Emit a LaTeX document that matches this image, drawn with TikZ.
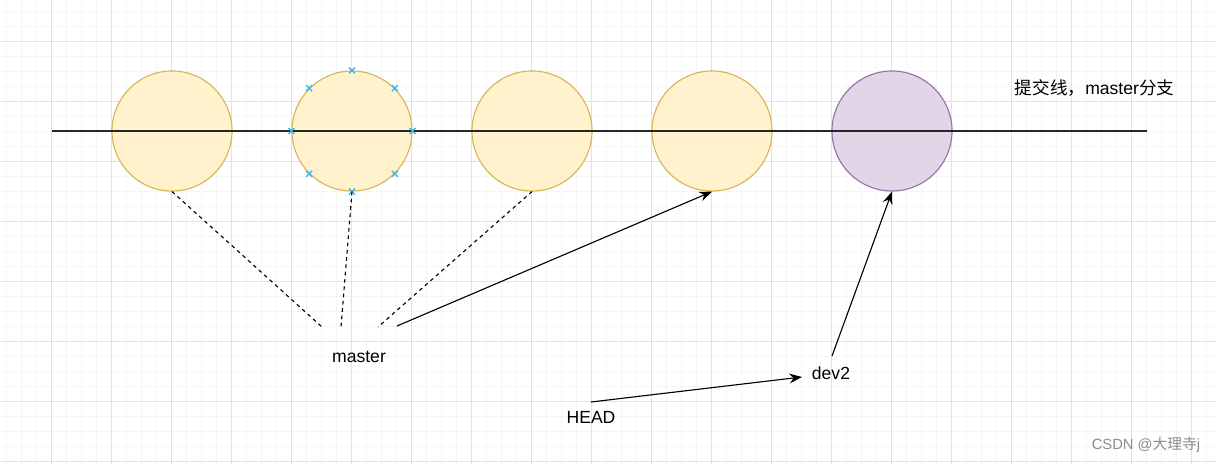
\documentclass[tikz,border=0pt]{standalone}
\usepackage{fontspec}
\setmainfont{Liberation Sans}
\newfontfamily\cjk{Noto Sans CJK SC}
\usetikzlibrary{arrows.meta}

\begin{document}
\begin{tikzpicture}[x=0.025cm, y=-0.025cm, font=\fontsize{12.5}{15}\selectfont]
  % Define colours
  \definecolor{gridminor}{RGB}{245,245,245}
  \definecolor{gridmajor}{RGB}{226,226,226}
  \definecolor{commitfill}{RGB}{255,242,204}
  \definecolor{commitline}{RGB}{214,182,86}
  \definecolor{branchfill}{RGB}{225,213,231}
  \definecolor{branchline}{RGB}{150,115,166}
  \definecolor{handle}{RGB}{41,182,242}
  \tikzset{
    commit/.style={circle, draw=commitline, fill=commitfill, line width=0.8pt,
      minimum size=3cm, inner sep=0pt},
    pointer/.style={line width=0.8pt, -{Stealth[length=9pt, width=7pt, inset=3pt]}},
    dotted link/.style={line width=0.8pt, dash pattern=on 2.6pt off 2.6pt}
  }

  % Canvas and draw.io style grid
  \useasboundingbox (0,0) rectangle (1216,464);
  \fill[white] (0,0) rectangle (1216,464);
  \foreach \gx in {6.5,21.5,...,1216} {
    \draw[gridminor, line width=0.7pt] (\gx,0) -- (\gx,464);
  }
  \foreach \gy in {11.5,26.5,...,464} {
    \draw[gridminor, line width=0.7pt] (0,\gy) -- (1216,\gy);
  }
  \foreach \gx in {51.5,111.5,...,1216} {
    \draw[gridmajor, line width=0.7pt] (\gx,0) -- (\gx,464);
  }
  \foreach \gy in {41.5,101.5,...,464} {
    \draw[gridmajor, line width=0.7pt] (0,\gy) -- (1216,\gy);
  }

  % Commits on the master line
  \foreach \i in {1,2,3,4} {
    \node[commit] (c\i) at ({172 + (\i-1)*180}, 131) {};
  }
  \node[commit, draw=branchline, fill=branchfill] (c5) at (892,131) {};

  % Commit line over the circles
  \draw[line width=0.75pt, black!85] (52,131) -- (1147,131);

  % Selection handles round the second commit
  \foreach \a in {0,45,...,315} {
    \draw[handle, line width=0.9pt] (c2.\a) ++(-3,-3) -- ++(6,6)
      (c2.\a) ++(-3,3) -- ++(6,-6);
  }

  % Labels
  \node (title) [anchor=west] at (1010,88) {{\cjk 提交线，}master{\cjk 分支}};
  \node (master) at (359,357) {master};
  \node (dev2) at (831,373) {dev2};
  \node (head) at (591,417) {HEAD};
  \node (mark) [text=black!45, font=\fontsize{10.5}{12}\selectfont] at (1146,445)
    {CSDN @{\cjk 大理寺}j};

  % Free ends near the labels
  \coordinate (m1) at (322,327);
  \coordinate (m2) at (341,327);
  \coordinate (m3) at (378,327);
  \coordinate (m4) at (397,326);
  \coordinate (d1) at (832,356);
  \coordinate (h1) at (591,402);
  \coordinate (d2) at (802,377);

  % Connectors
  \draw[dotted link] (c1.south) -- (m1);
  \draw[dotted link] (c2.south) -- (m2);
  \draw[dotted link] (c3.south) -- (m3);
  \draw[pointer] (m4) -- (c4.south);
  \draw[pointer] (d1) -- (c5.south);
  \draw[pointer] (h1) -- (d2);
\end{tikzpicture}
\end{document}
